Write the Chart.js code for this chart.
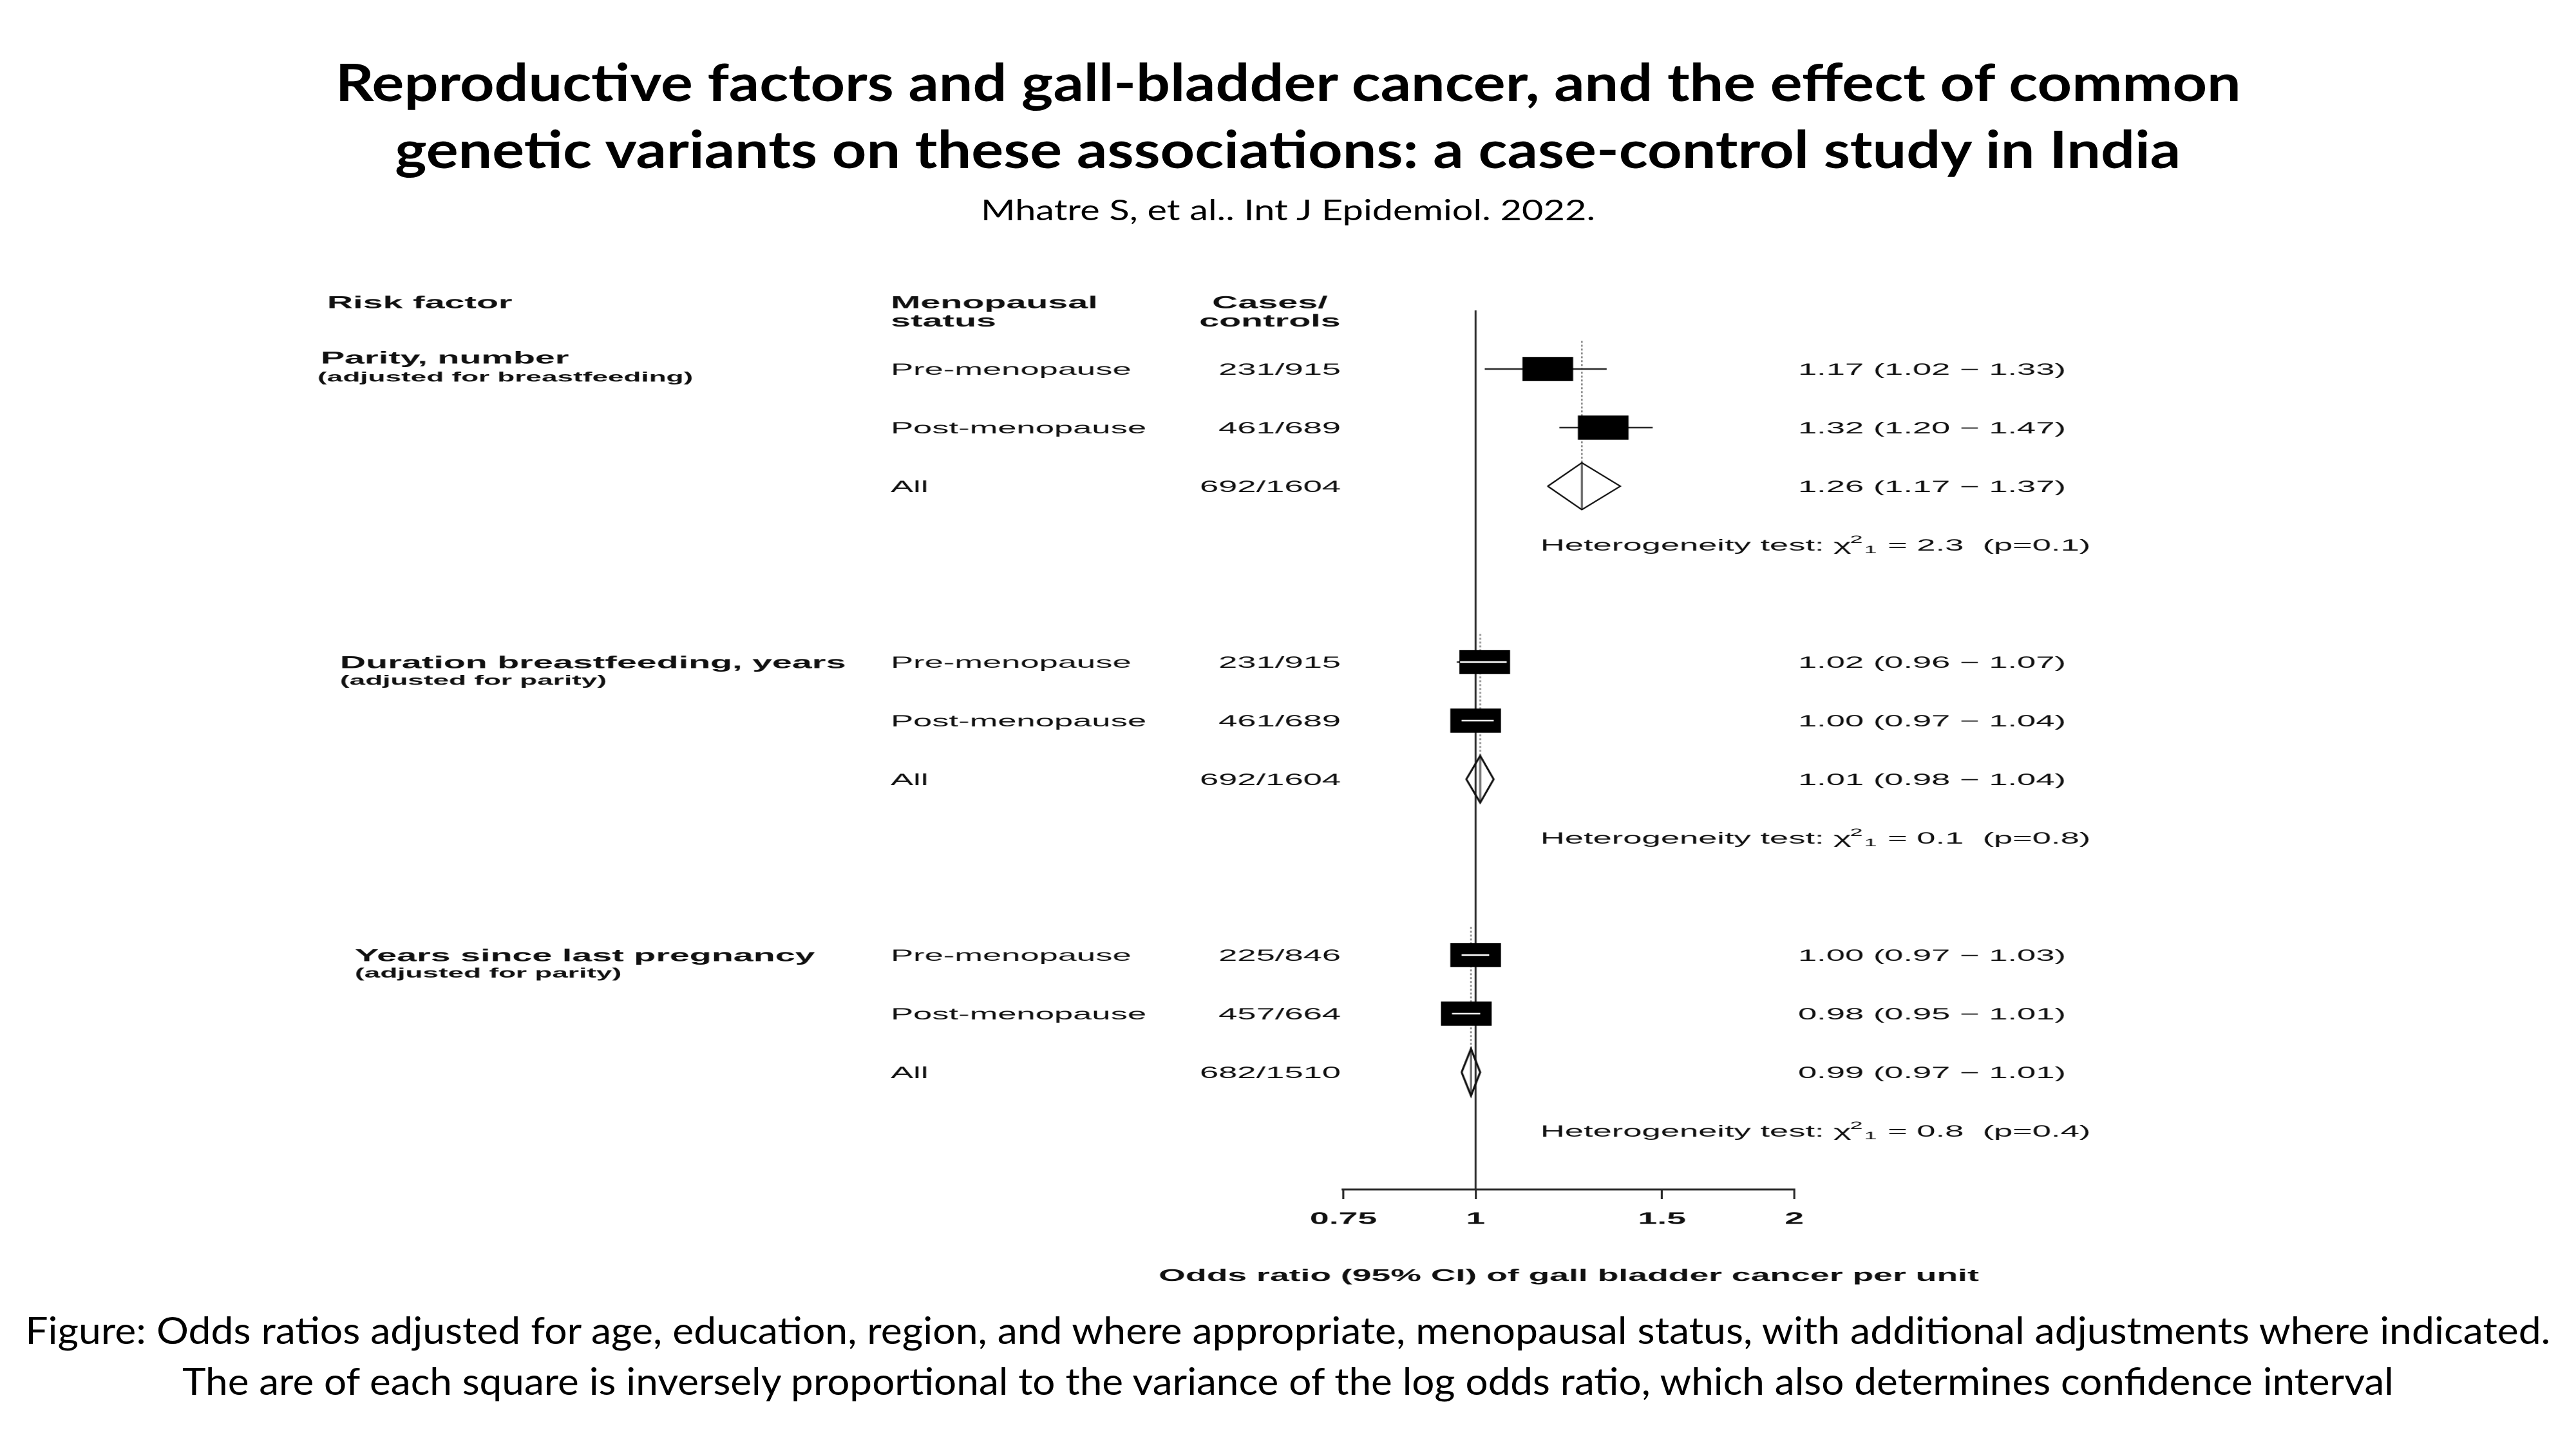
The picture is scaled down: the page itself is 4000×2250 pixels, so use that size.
<!DOCTYPE html>
<html>
<head>
<meta charset="utf-8">
<script src="https://cdn.jsdelivr.net/npm/chart.js@4.4.1/dist/chart.umd.min.js"></script>
<style>
html, body { margin:0; padding:0; background:#ffffff; }
body { width:4000px; height:2250px; position:relative; overflow:hidden; }
#wrap { position:absolute; left:0; top:0; width:1905px; height:2250px; transform:scaleX(2.1); transform-origin:0 0; }
.fit { position:absolute; left:0; width:4000px; text-align:center; white-space:nowrap; line-height:1; font-family:Lato, "Open Sans", sans-serif; color:#000; }
.fit span { display:inline-block; transform-origin:50% 50%; }
</style>
</head>
<body>
<div id="wrap"><canvas id="c"></canvas></div>
<script>
// ---------------- data ----------------
const titleLines = [
  'Reproductive factors and gall-bladder cancer, and the effect of common',
  'genetic variants on these associations: a case-control study in India'
];
const citation = 'Mhatre S, et al.. Int J Epidemiol. 2022.';
const captionLines = [
  'Figure: Odds ratios adjusted for age, education, region, and where appropriate, menopausal status, with additional adjustments where indicated.',
  'The are of each square is inversely proportional to the variance of the log odds ratio, which also determines confidence interval'
];
const columnHeaders = [['Risk factor'], ['Menopausal', 'status'], ['Cases/', 'controls']];
const groupTitles = ['Parity, number', 'Duration breastfeeding, years', 'Years since last pregnancy'];
const groupNotes = ['(adjusted for breastfeeding)', '(adjusted for parity)', '(adjusted for parity)'];
const statusLabels = ['Pre-menopause', 'Post-menopause', 'All'];
const casesControls = ['231/915', '461/689', '692/1604', '231/915', '461/689', '692/1604', '225/846', '457/664', '682/1510'];
const orEst  = [1.17, 1.32, 1.26, 1.02, 1.00, 1.01, 1.00, 0.98, 0.99];
const orLow  = [1.02, 1.20, 1.17, 0.96, 0.97, 0.98, 0.97, 0.95, 0.97];
const orHigh = [1.33, 1.47, 1.37, 1.07, 1.04, 1.04, 1.03, 1.01, 1.01];
const hetChi2 = ['2.3', '0.1', '0.8'];
const hetP = ['0.1', '0.8', '0.4'];
const xTicks = [0.75, 1, 1.5, 2];
const xTickLabels = ['0.75', '1', '1.5', '2'];
const axisTitle = 'Odds ratio (95% CI) of gall bladder cancer per unit';

// ---------------- layout ----------------
const S = 2.1;                 // horizontal stretch of the forest plot image
const ROWS_PER_GROUP = 5;
const rowOf = i => Math.floor(i / 3) * ROWS_PER_GROUP + (i % 3);
const hetRow = g => g * ROWS_PER_GROUP + 3;
const isPooled = i => i % 3 === 2;
const BOX_R = 26.5;            // square marker radius (internal px)
const DIA_H = 0.4;             // diamond half height in rows
const FONT = '"Liberation Sans", Arial, Helvetica, sans-serif';
const INK = '#111111';

// overlay (unstretched) texts
const overlay = [
  { text: titleLines[0], cy: 128, size: 80, weight: 700, w: 2959 },
  { text: titleLines[1], cy: 232, size: 80, weight: 700, w: 2773 },
  { text: citation, cy: 327, size: 45, weight: 400, w: 954 },
  { text: captionLines[0], cy: 2066, size: 59, weight: 400, w: 3921 },
  { text: captionLines[1], cy: 2145, size: 59, weight: 400, w: 3434 }
];
overlay.forEach(o => {
  const d = document.createElement('div');
  d.className = 'fit';
  d.style.fontSize = o.size + 'px';
  d.style.fontWeight = o.weight;
  d.style.top = (o.cy - 0.53 * o.size) + 'px';
  const s = document.createElement('span');
  s.textContent = o.text;
  d.appendChild(s);
  document.body.appendChild(d);
  const w = s.getBoundingClientRect().width;
  s.style.transform = 'scaleX(' + (o.w / w) + ')';
});

// ---------------- datasets ----------------
const datasets = [];
// reference line at OR = 1
datasets.push({ data: [{ x: 1, y: -1 }, { x: 1, y: 14 }], showLine: true, borderColor: '#2a2a2a', borderWidth: 1.45, pointRadius: 0, order: 40 });
// dotted lines at pooled estimates
for (let g = 0; g < 3; g++) {
  const p = g * 3 + 2;
  datasets.push({ data: [{ x: orEst[p], y: g * ROWS_PER_GROUP - 0.48 }, { x: orEst[p], y: rowOf(p) - DIA_H }],
    showLine: true, borderColor: '#8c8c8c', borderWidth: 1.3, borderDash: [3, 3], pointRadius: 0, order: 50 });
}
// confidence intervals and squares for stratum estimates
const squarePts = [];
orEst.forEach((e, i) => {
  if (isPooled(i)) return;
  datasets.push({ data: [{ x: orLow[i], y: rowOf(i) }, { x: orHigh[i], y: rowOf(i) }],
    showLine: true, borderColor: '#2a2a2a', borderWidth: 2.6, pointRadius: 0, order: 30 });
  squarePts.push({ x: e, y: rowOf(i) });
});
datasets.push({ data: squarePts, showLine: false, pointStyle: 'rect', pointRadius: BOX_R,
  backgroundColor: '#000', borderWidth: 0, order: 20 });
// diamonds for pooled estimates
orEst.forEach((e, i) => {
  if (!isPooled(i)) return;
  const r = rowOf(i);
  datasets.push({ data: [{ x: orLow[i], y: r }, { x: e, y: r - DIA_H }, { x: orHigh[i], y: r }, { x: e, y: r + DIA_H }, { x: orLow[i], y: r }],
    showLine: true, borderColor: '#111', borderWidth: 1.6, pointRadius: 0, tension: 0, order: 5 });
  datasets.push({ data: [{ x: e, y: r - DIA_H }, { x: e, y: r + DIA_H }],
    showLine: true, borderColor: '#6e6e6e', borderWidth: 1.6, pointRadius: 0, order: 6 });
});

// ---------------- plugins ----------------
const whiteCI = {
  id: 'whiteCI',
  afterDatasetsDraw(chart) {
    const ctx = chart.ctx, xs = chart.scales.x, ys = chart.scales.y;
    const half = BOX_R * Math.SQRT1_2;
    ctx.save();
    ctx.strokeStyle = '#ffffff';
    ctx.lineWidth = 2.6;
    orEst.forEach((e, i) => {
      if (isPooled(i)) return;
      const c = xs.getPixelForValue(e), lo = xs.getPixelForValue(orLow[i]), hi = xs.getPixelForValue(orHigh[i]);
      const tol = 3;
      if (lo >= c - half - tol && hi <= c + half + tol) {
        const yy = ys.getPixelForValue(rowOf(i));
        ctx.beginPath();
        ctx.moveTo(Math.max(lo, c - half + 0.5), yy);
        ctx.lineTo(Math.min(hi, c + half - 0.5), yy);
        ctx.stroke();
      }
    });
    ctx.restore();
  }
};

const tableText = {
  id: 'tableText',
  afterDraw(chart) {
    const ctx = chart.ctx, ys = chart.scales.y, xs = chart.scales.x;
    const Y = r => ys.getPixelForValue(r);
    ctx.save();
    ctx.fillStyle = INK;
    const put = (s, px, cy, size, weight, align) => {
      ctx.font = weight + ' ' + size + 'px ' + FONT;
      ctx.textAlign = align;
      ctx.textBaseline = 'alphabetic';
      ctx.fillText(s, px, cy + size * 0.358);
    };
    // column headers
    put(columnHeaders[0][0], 241.9, Y(-1.14), 26.5, 'bold', 'left');
    put(columnHeaders[1][0], 658.6, Y(-1.14), 26.5, 'bold', 'left');
    put(columnHeaders[1][1], 658.6, Y(-0.83), 26.5, 'bold', 'left');
    put(columnHeaders[2][0], 939, Y(-1.14), 26.5, 'bold', 'center');
    put(columnHeaders[2][1], 939, Y(-0.83), 26.5, 'bold', 'center');
    // group labels
    const gx = [237.1, 251.4, 262.4], nx = [234.8, 251.4, 262.4];
    const gOff = [-0.2, 0, 0.0], nOff = [0.13, 0.31, 0.3];
    for (let g = 0; g < 3; g++) {
      put(groupTitles[g], gx[g], Y(g * ROWS_PER_GROUP + gOff[g]), 26.5, 'bold', 'left');
      put(groupNotes[g], nx[g], Y(g * ROWS_PER_GROUP + nOff[g]), 21, 'bold', 'left');
    }
    // rows
    orEst.forEach((e, i) => {
      const cy = Y(rowOf(i));
      put(statusLabels[i % 3], 658.6, cy, 25, 'normal', 'left');
      put(casesControls[i], 991.4, cy, 25, 'normal', 'right');
      put(e.toFixed(2) + ' (' + orLow[i].toFixed(2) + ' \u2212 ' + orHigh[i].toFixed(2) + ')', 1329.5, cy, 25, 'normal', 'left');
    });
    // heterogeneity tests
    for (let g = 0; g < 3; g++) {
      const base = Y(hetRow(g)) + 25 * 0.358;
      let px = 1139;
      ctx.textAlign = 'left';
      ctx.font = 'normal 25px ' + FONT;
      const s1 = 'Heterogeneity test: ';
      ctx.fillText(s1, px, base); px += ctx.measureText(s1).width;
      ctx.fillText('\u03C7', px, base); px += ctx.measureText('\u03C7').width;
      ctx.font = 'normal 17px ' + FONT;
      ctx.fillText('2', px - 1, base - 12); const w2 = ctx.measureText('2').width;
      ctx.fillText('1', px + w2, base + 4); px += w2 + ctx.measureText('1').width + 1;
      ctx.font = 'normal 25px ' + FONT;
      ctx.fillText(' = ' + hetChi2[g] + '  (p=' + hetP[g] + ')', px, base);
    }
    // x-axis title, centred under the axis
    put(axisTitle, (xs.left + xs.right) / 2, xs.top + 133, 25.5, 'bold', 'center');
    ctx.restore();
  }
};

// ---------------- chart ----------------
new Chart(document.getElementById('c'), {
  type: 'scatter',
  data: { datasets },
  options: {
    responsive: true,
    maintainAspectRatio: false,
    devicePixelRatio: 2,
    animation: false,
    events: [],
    layout: { padding: { left: 993.33, right: 578.33, top: 482, bottom: 233 } },
    plugins: { legend: { display: false }, tooltip: { enabled: false } },
    scales: {
      x: {
        type: 'logarithmic',
        min: 0.75,
        max: 2,
        afterBuildTicks: s => { s.ticks = xTicks.map(v => ({ value: v })); },
        afterFit: s => { s.height = 170; s.paddingLeft = 0; s.paddingRight = 0; },
        ticks: {
          autoSkip: false, maxRotation: 0, padding: 16, color: INK,
          font: { family: FONT, size: 25.5, weight: 'bold' },
          callback: (v, i) => xTickLabels[i]
        },
        grid: { display: true, drawOnChartArea: false, drawTicks: true, tickLength: 15, color: '#2a2a2a', lineWidth: 1.5 },
        border: { display: true, color: '#2a2a2a', width: 3 },
        title: { display: false }
      },
      y: { type: 'linear', reverse: true, min: -1, max: 14, display: false }
    }
  },
  plugins: [whiteCI, tableText]
});
</script>
</body>
</html>
